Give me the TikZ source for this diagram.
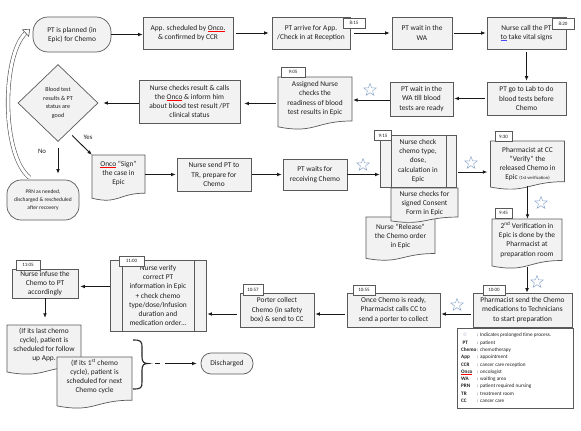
\documentclass[tikz,border=0pt]{standalone}
\usepackage{fontspec}
\setmainfont{Carlito}
\newfontfamily\symfont{DejaVu Sans}
\usetikzlibrary{arrows.meta,calc,shapes.geometric}
\definecolor{boxfill}{HTML}{F2F2F2}
\definecolor{boxline}{HTML}{595959}
\definecolor{starblue}{HTML}{8EA9CB}
\definecolor{txt}{HTML}{1F1F1F}
\newsavebox\ulbox
\newcommand\redline[2]{\sbox\ulbox{#2}\rlap{\color{#1}\rule[-1.4pt]{\wd\ulbox}{0.45pt}}\usebox\ulbox}
\tikzset{
  wh/.style 2 args={minimum width=#1pt, minimum height=#2pt},
  every node/.style={text=txt},
  box/.style={draw=boxline, fill=boxfill, line width=0.7pt, align=center, inner sep=1pt, font=\fontsize{7.4}{9.2}\selectfont},
  term/.style={box, rounded corners=15pt},
  docfill/.style={draw=boxline, fill=boxfill, line width=0.7pt},
  doctext/.style={align=center, inner sep=0pt, font=\fontsize{7.4}{9.2}\selectfont},
  tag/.style={draw=boxline, fill=white, line width=0.6pt, inner sep=0pt, font=\fontsize{5}{6}\selectfont},
  arr/.style={draw=black!90, line width=0.9pt, -{Latex[length=4.5pt,width=3.8pt]}},
  hollow/.style={draw=boxline, line width=0.6pt, double=white, double distance=3pt},
  staricon/.style={star, star points=5, star point ratio=2.4, draw=starblue, line width=0.5pt, minimum size=13pt, inner sep=0pt},
  lab/.style={inner sep=0pt, font=\fontsize{6.8}{8}\selectfont},
}
% document shape: name, cx, cy, w, h
\newcommand\mydocshape[5]{%
  \path[docfill] ({#2-#4/2},{#3-#5/2}) -- ({#2+#4/2},{#3-#5/2}) -- ({#2+#4/2},{#3+0.33*#5})
    .. controls ({#2},{#3+0.33*#5}) and ({#2},{#3+0.58*#5}) .. ({#2-#4/2},{#3+0.44*#5}) -- cycle;
  \node[inner sep=0pt, wh={#4}{#5}] (#1) at (#2,#3) {};}
% name, cx, cy, w, h, text dy, text
\newcommand\mydoc[7]{%
  \mydocshape{#1}{#2}{#3}{#4}{#5}
  \node[doctext] (#1-t) at (#2,{#3+#6}) {#7};}
\begin{document}
\begin{tikzpicture}[x=1pt,y=-1pt]
\fill[white] (0,0) rectangle (581,431);
\useasboundingbox (0,0) rectangle (581,431);

% ---------- row 1
\node[term, wh={78}{35}] (N1) at (72,34.5) {PT is planned (in\\Epic) for Chemo};
\node[box, wh={90}{32}] (N2) at (188,33) {App. scheduled by \redline{red}{Onco.}\\\& confirmed by CCR};
\node[box, wh={78}{32}] (N3) at (311,33) {PT arrive for App.\\/Check in at Reception};
\node[tag, wh={22}{10}] (T815) at (354,23) {8:15};
\node[box, wh={60}{32}] (N4) at (422,33) {PT wait in the\\WA};
\node[box, wh={79}{32}] (N5) at (526.5,33) {Nurse call the PT\\\redline{blue!70}{to} take vital signs};
\node[tag, wh={22}{11}] (T820) at (563,24) {8:20};

% ---------- row 2
\node[box, wh={79}{33}] (N6) at (526.5,98.5) {PT go to Lab to do\\blood tests before\\Chemo};
\node[box, wh={63}{34}] (N7) at (421.5,99) {PT wait in the\\WA till blood\\tests are ready};
\mydoc{N8}{315}{103.5}{74}{53}{-5}{Assigned Nurse\\checks the\\readiness of blood\\test results in Epic}
\node[tag, wh={24}{10}] (T905) at (293,72) {9:05};
\node[box, wh={101}{43}] (N9) at (189.5,101.5) {Nurse checks result \& calls\\the \redline{red}{Onco} \& inform him\\about blood test result /PT\\clinical status};
\node[diamond, draw=boxline, fill=boxfill, line width=0.7pt, minimum width=80pt, minimum height=77pt, inner sep=0pt, align=center, font=\fontsize{6.1}{8.5}\selectfont] (D) at (58,103) {Blood test\\results \& PT\\status are\\good};
\node[lab] (yes) at (88,137) {Yes};
\node[lab] (no) at (42,151) {No};
\node[term, wh={72}{40}, rounded corners=14pt, font=\fontsize{5.5}{8}\selectfont] (PRN) at (43,200) {PRN as needed,\\discharged \& rescheduled\\after recovery};

% ---------- row 3
\mydoc{N11}{118.5}{178}{53}{46}{-4.5}{\redline{red}{Onco} “Sign”\\the case in\\Epic}
\node[box, wh={74}{33}] (N12) at (214,174.5) {Nurse send PT to\\TR, prepare for\\Chemo};
\node[box, wh={64}{31}] (N13) at (315,174.5) {PT waits for\\receiving Chemo};
\node[box, wh={76}{52}] (N14) at (418,161) {Nurse check\\chemo type,\\dose,\\calculation in\\Epic};
\draw[boxline, line width=0.7pt] ([xshift=12pt]N14.north west) -- ([xshift=12pt]N14.south west);
\draw[boxline, line width=0.7pt] ([xshift=-10pt]N14.north east) -- ([xshift=-10pt]N14.south east);
\node[tag, wh={17}{10}] (T915) at (383,135.5) {9:15};
\mydocshape{N16}{400.5}{239}{69}{44}
\mydoc{N15}{424.5}{205.5}{67}{35}{-2}{Nurse checks for\\signed Consent\\Form in Epic}
\node[doctext] (N16-t) at (400.5,236.5) {Nurse “Release”\\the Chemo order\\in Epic};
\mydoc{N17}{527.5}{165.5}{74}{49}{-1.5}{Pharmacist at CC\\“Verify” the\\released Chemo in\\Epic {\fontsize{4.6}{5}\selectfont(1st verification)}}
\node[tag, wh={17}{10}] (T930) at (503.5,136.5) {9:30};
\mydoc{N18}{527}{244}{70}{50}{-4.5}{2\textsuperscript{nd} Verification in\\Epic is done by the\\Pharmacist at\\preparation room}
\node[tag, wh={17}{10}] (T945) at (503.5,213) {9:45};

% ---------- row 4
\node[box, wh={99}{34}] (N19) at (522.5,310) {Pharmacist send the Chemo\\medications to Technicians\\to start preparation};
\node[tag, wh={22}{10}] (T1000) at (494,290) {10:00};
\node[box, wh={93}{34}] (N20) at (393.5,310) {Once Chemo is ready,\\Pharmacist calls CC to\\send a porter to collect};
\node[tag, wh={22}{10}] (T1055) at (364,290) {10:55};
\node[box, wh={74}{34}] (N21) at (277,310) {Porter collect\\Chemo (in safety\\box) \& send to CC};
\node[tag, wh={20}{11}] (T1057) at (253,289.5) {10:57};
\node[box, wh={96}{71}] (N22) at (158,295.5) {Nurse verify\\correct PT\\information in Epic\\+ check chemo\\type/dose/Infusion\\duration and\\medication order…};
\draw[boxline, line width=0.7pt] ([xshift=13pt]N22.north west) -- ([xshift=13pt]N22.south west);
\draw[boxline, line width=0.7pt] ([xshift=-12pt]N22.north east) -- ([xshift=-12pt]N22.south east);
\node[tag, wh={25}{10}] (T1100) at (131.5,261) {11:00};
\node[box, wh={66}{29}] (N23) at (45,283.5) {Nurse infuse the\\Chemo to PT\\accordingly};
\node[tag, wh={24}{10}] (T1105) at (28,265) {11:05};

% ---------- bottom
\mydoc{N24}{44}{350}{74}{50}{-5}{(If its last chemo\\cycle), patient is\\scheduled for follow\\up App.}
\mydoc{N25}{94.5}{383}{75}{52}{-6.5}{(If its 1\textsuperscript{st} chemo\\cycle), patient is\\scheduled for next\\Chemo cycle}
\node[term, wh={52}{21}, rounded corners=10pt] (N26) at (227,363.5) {Discharged};

% brace
\coordinate (brtop) at (133,340);
\coordinate (brtip) at (148,363.5);
\coordinate (brbot) at (133,389);
\draw[line width=1.1pt, draw=black!85] (brtop) .. controls (141,340) and (142,341) .. (142,348) -- (142,357)
  .. controls (142,362) and (144,363.5) .. (brtip) .. controls (144,363.5) and (142,365) .. (142,370)
  -- (142,382) .. controls (142,388) and (141,389) .. (brbot);
\draw[arr, dash pattern=on 5pt off 5pt on 40pt off 1pt, shorten <=7pt, shorten >=4pt] (brtip) -- (brtip -| N26.west);

% ---------- stars
\node[staricon] (S1) at (370,90) {};
\node[staricon] (S2) at (363,165) {};
\node[staricon] (S3) at (471,163) {};
\node[staricon] (S4) at (541,203) {};
\node[staricon] (S5) at (537,282) {};
\node[staricon] (S6) at (457,305) {};

% ---------- connectors
\draw[arr] (N1.east) -- (N1.east -| N2.west);
\draw[arr, shorten <=3pt, shorten >=3pt] (N2.east) -- (N3.west);
\draw[arr, shorten <=4pt, shorten >=2pt] (N3.east) -- (N4.west);
\draw[arr, shorten <=2pt, shorten >=1pt] (N4.east) -- (N5.west);
\draw[arr, shorten <=3pt, shorten >=1pt] (N5.south) -- (N5.south |- N6.north);
\draw[arr, shorten <=2pt, shorten >=1pt] (N6.west) -- (N6.west -| N7.east);
\draw[arr, shorten >=1pt] ([yshift=-1pt]N7.west) -- ([yshift=-1pt]N7.west -| N8.east);
\draw[arr, shorten <=2pt, shorten >=4pt] (N8.west) -- (N8.west -| N9.east);
\draw[arr, shorten >=5pt] ([yshift=-1.5pt]N9.west) -- ([yshift=-1.5pt]N9.west -| D.east);
\draw[arr] ([shift={(-6pt,-13pt)}]D.south east) -- (N11.north west);
\draw[arr, shorten <=6pt, shorten >=6pt] (D.south) -- (D.south |- PRN.north);
\draw[arr, shorten >=1pt] (N11.east |- N12.west) -- (N12.west);
\draw[arr, shorten <=1pt, shorten >=1pt] (N12.east) -- (N12.east -| N13.west);
\draw[arr] (N13.east) -- (N13.east -| N14.west);
\draw[arr, shorten <=2pt, shorten >=3pt] ([yshift=-11pt]N14.east) -- ([yshift=-11pt]N14.east -| N17.west);
\draw[arr] ([yshift=4pt]N17.south) -- (N17.south |- N18.north);
\draw[arr] ([yshift=2pt]N18.south) -- (N18.south |- N19.north);
\draw[arr, shorten <=2pt, shorten >=1pt] ([yshift=-4pt]N19.west) -- ([yshift=-4pt]N19.west -| N20.east);
\draw[arr, shorten <=2pt, shorten >=1pt] ([yshift=-4pt]N20.west) -- ([yshift=-4pt]N20.west -| N21.east);
\draw[arr, shorten <=3pt, shorten >=1pt] ([yshift=-4pt]N21.west) -- ([yshift=-4pt]N21.west -| N22.east);
\draw[arr, shorten >=2pt] ([yshift=-3pt]N23.east -| N22.west) -- ([yshift=-3pt]N23.east);
\draw[arr, shorten >=7pt] (N23.south) -- (N23.south |- N24.north);

% hollow curved return arrow (PRN -> planned)
\coordinate (ce) at ([shift={(-7pt,1.5pt)}]N1.west);
\draw[hollow] ([shift={(23pt,2pt)}]PRN.north west) .. controls (1,155) and (2,55) .. (ce);
\draw[draw=boxline, fill=white, line width=0.6pt, line join=miter] ($(ce)+(4.05,-3.72)$) -- ($(ce)+(3.04,3.32)$) -- ($(ce)+(-3.04,-3.32)$) -- cycle;

% ---------- legend
\node[draw=boxline, line width=0.6pt, fill=white, wh={116}{80}, inner sep=0pt] (leg) at (515,368) {};
\node[anchor=north west, inner sep=0pt, font=\fontsize{5.2}{7.3}\selectfont, align=left] (legt) at (461,331.5) {%
\begin{tabular}{@{}l@{}}
\makebox[16pt][l]{\hspace{1.5pt}{\symfont\color{starblue!80!black}☆}}: Indicates prolonged time process.\\
\makebox[16pt][l]{\hspace{1.5pt}\textbf{PT}}: patient\\
\makebox[16pt][l]{\textbf{Chemo}}: chemotherapy\\
\makebox[16pt][l]{\textbf{App}}: appointment\\
\makebox[16pt][l]{\textbf{CCR}}: cancer care reception\\
\makebox[16pt][l]{\redline{red}{\textbf{Onco}}}: oncologist\\
\makebox[16pt][l]{\textbf{WA}}: waiting area\\
\makebox[16pt][l]{\textbf{PRN}}: patient required nursing\\
\makebox[16pt][l]{\textbf{TR}}: treatment room\\
\makebox[16pt][l]{\textbf{CC}}: cancer care
\end{tabular}};
\end{tikzpicture}
\end{document}
